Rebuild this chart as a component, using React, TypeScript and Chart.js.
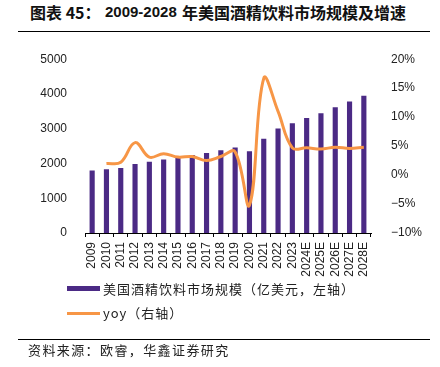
import React, { useEffect, useRef } from "react";
import { Chart, registerables } from "chart.js";

Chart.register(...registerables);

const categories = ["2009","2010","2011","2012","2013","2014","2015","2016","2017","2018","2019","2020","2021","2022","2023","2024E","2025E","2026E","2027E","2028E"];
const marketSize = [1800,1835,1872,1985,2050,2115,2180,2245,2305,2378,2462,2350,2715,3005,3155,3305,3446,3615,3783,3952];
const yoy = [null,2.0,2.2,5.6,3.1,3.7,3.1,3.2,2.5,3.2,4.0,-5.2,16.7,11.0,4.7,4.7,4.5,4.8,4.6,4.8];
const leftTicks = [0,1000,2000,3000,4000,5000];
const rightTicks = [-10,-5,0,5,10,15,20];

const BAR = "#4B2A85";
const LINE = "#F79646";
const FONT = "'Liberation Sans', Arial, sans-serif";
const CJK = "'Noto Sans CJK SC', sans-serif";

export default function App() {
  const ref = useRef<HTMLCanvasElement | null>(null);
  useEffect(() => {
    if (!ref.current) return;
    let xHeight = 50;
    const chart = new Chart(ref.current, {
      type: "bar",
      data: {
        labels: categories,
        datasets: [
          {
            type: "line",
            label: "yoy（右轴）",
            data: yoy,
            yAxisID: "y1",
            borderColor: LINE,
            backgroundColor: LINE,
            borderWidth: 3,
            pointRadius: 0,
            tension: 0.4,
            order: 0,
          } as any,
          {
            type: "bar",
            label: "美国酒精饮料市场规模（亿美元，左轴）",
            data: marketSize,
            yAxisID: "y",
            backgroundColor: BAR,
            barPercentage: 0.36,
            categoryPercentage: 1,
            order: 1,
          },
        ],
      },
      options: {
        animation: false,
        responsive: false,
        maintainAspectRatio: false,
        layout: { padding: { top: 15, left: 0, right: 0, bottom: 0 } },
        plugins: { legend: { display: false }, tooltip: { enabled: false } },
        scales: {
          x: {
            offset: true,
            grid: { display: true, offset: true, drawOnChartArea: false, drawTicks: true, tickLength: 4, color: "#000", lineWidth: 1 },
            border: { display: true, color: "#000", width: 1 },
            ticks: { color: "#222", font: { family: FONT, size: 12 }, maxRotation: 90, minRotation: 90, padding: 5, autoSkip: false },
            afterFit: (s: any) => { s.height = xHeight; },
          },
          y: {
            position: "left",
            min: 0,
            max: 5000,
            afterBuildTicks: (s: any) => { s.ticks = leftTicks.map((v) => ({ value: v })); },
            grid: { display: false },
            border: { display: false },
            ticks: { color: "#222", font: { family: FONT, size: 12 }, padding: 10, callback: (v: any) => String(v) },
            afterFit: (s: any) => { s.width = 85; },
          },
          y1: {
            position: "right",
            min: -10,
            max: 20,
            afterBuildTicks: (s: any) => { s.ticks = rightTicks.map((v) => ({ value: v })); },
            grid: { display: false },
            border: { display: false },
            ticks: {
              color: "#222",
              font: { family: FONT, size: 12 },
              padding: 12,
              callback: (v: any) => (Number(v) < 0 ? "\u2212" + Math.abs(Number(v)) : String(v)) + "%",
            },
            afterFit: (s: any) => { s.width = 69; },
          },
        },
      },
    });
    // align the plot area to the reference frame (top 15, bottom 193 in canvas px)
    for (let i = 0; i < 3; i++) {
      const area = chart.chartArea;
      const dt = 15 - area.top;
      const db = area.bottom - 193;
      if (Math.abs(dt) < 0.5 && Math.abs(db) < 0.5) break;
      (chart.options.layout as any).padding.top += dt;
      xHeight += db;
      chart.update();
    }
    return () => chart.destroy();
  }, []);

  const titleBase: React.CSSProperties = { position: "absolute", top: 1, fontWeight: 700, color: "#111", whiteSpace: "nowrap", lineHeight: "22px" };

  return (
    <div style={{ position: "fixed", left: 0, top: 0, width: 440, height: 367, background: "#fff", overflow: "hidden" }}>
      <div style={{ ...titleBase, left: 30, fontFamily: CJK, fontSize: 16 }}>图表 45：</div>
      <div style={{ ...titleBase, left: 105, fontFamily: FONT, fontSize: 15 }}>2009-2028</div>
      <div style={{ ...titleBase, left: 182, fontFamily: CJK, fontSize: 16 }}>年美国酒精饮料市场规模及增速</div>
      <div style={{ position: "absolute", left: 18, top: 31, width: 412, height: 1, background: "#000" }} />
      <canvas ref={ref} width={440} height={245} style={{ position: "absolute", left: 0, top: 40, width: 440, height: 245 }} />
      <div style={{ position: "absolute", left: 67, top: 286, width: 33, height: 5, background: BAR }} />
      <div style={{ position: "absolute", left: 103, top: 279, fontFamily: CJK, fontSize: 13, letterSpacing: 1, color: "#222", whiteSpace: "nowrap", lineHeight: "20px" }}>
        美国酒精饮料市场规模（亿美元，左轴）
      </div>
      <div style={{ position: "absolute", left: 67, top: 312, width: 33, height: 3, background: LINE }} />
      <div style={{ position: "absolute", left: 103, top: 303, fontFamily: CJK, fontSize: 13, letterSpacing: 1, color: "#222", whiteSpace: "nowrap", lineHeight: "20px" }}>
        yoy（右轴）
      </div>
      <div style={{ position: "absolute", left: 18, top: 339, width: 412, height: 1, background: "#000" }} />
      <div style={{ position: "absolute", left: 28, top: 341, fontFamily: CJK, fontSize: 13, letterSpacing: 1.4, color: "#222", whiteSpace: "nowrap", lineHeight: "18px" }}>
        资料来源：欧睿，华鑫证券研究
      </div>
    </div>
  );
}
